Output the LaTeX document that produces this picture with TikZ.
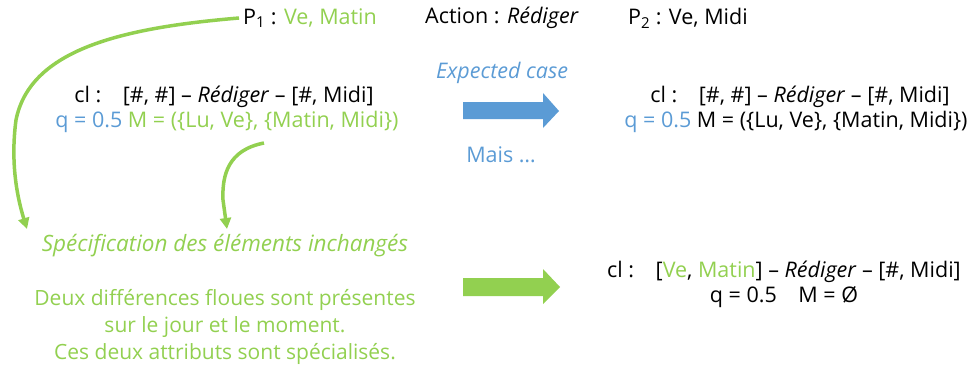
\documentclass[tikz,border=0pt]{standalone}
\usepackage{fontspec}
\setmainfont{Open Sans}
\usetikzlibrary{arrows.meta}
\definecolor{gr}{HTML}{92D050}
\definecolor{bl}{HTML}{5B9BD5}
\begin{document}
\begin{tikzpicture}[x=1pt,y=-1pt,
  txt/.style={inner sep=0pt, font=\fontsize{21.5}{26}\selectfont, align=center},
  curve/.style={draw=gr, line width=3.5pt, -{Triangle[width=11pt,length=11pt]}}]
\useasboundingbox (0,0) rectangle (975,369);
% top row
\node[txt, anchor=west] (p1) at (243,18) {P\textsubscript{1} : \textcolor{gr}{Ve, Matin}};
\node[txt, anchor=west] (act) at (425,18) {Action : \textit{Rédiger}};
\node[txt, anchor=west] (p2) at (628,18) {P\textsubscript{2} : Ve, Midi};
% left cl
\node[txt] (cl1) at (224,97) {cl :\quad[\#, \#] -- \textit{Rédiger} -- [\#, Midi]};
\node[txt] (q1) at (227,122) {\textcolor{bl}{q = 0.5} \textcolor{gr}{M = (\{Lu, Ve\}, \{Matin, Midi\})}};
% expected case
\node[txt, text=bl, font=\fontsize{21.5}{26}\selectfont\itshape] (exp) at (502,73) {Expected case};
\node[txt, text=bl] (mais) at (501,155) {Mais …};
\fill[bl] (463,102) -- (543,102) -- (543,93) -- (559,111) -- (543,128) -- (543,119) -- (463,119) -- cycle;
% right cl
\node[txt] (cl2) at (800,97) {cl :\quad[\#, \#] -- \textit{Rédiger} -- [\#, Midi]};
\node[txt] (q2) at (796,122) {\textcolor{bl}{q = 0.5} M = (\{Lu, Ve\}, \{Matin, Midi\})};
% specification
\node[txt, text=gr, font=\fontsize{22.5}{26}\selectfont\itshape] (spec) at (225,246) {Spécification des éléments inchangés};
\node[txt, text=gr, font=\fontsize{21}{27}\selectfont] (expl) at (225,327) {Deux différences floues sont présentes\\sur le jour et le moment.\\Ces deux attributs sont spécialisés.};
% green arrow
\fill[gr] (463,278) -- (543,278) -- (543,269) -- (560,287) -- (543,304) -- (543,296) -- (463,296) -- cycle;
% right bottom
\node[txt] (cl3) at (784,272) {cl :\quad[\textcolor{gr}{Ve}, \textcolor{gr}{Matin}] -- \textit{Rédiger} -- [\#, Midi]};
\node[txt] (q3) at (784,297) {q = 0.5\quad M = Ø};
% curves
\coordinate (s1) at (239,18);
\coordinate (e1) at (27,229);
\draw[curve] (s1) .. controls (120,28) and (30,50) .. (16,120) .. controls (10,165) and (18,200) .. (e1);
\coordinate (s2) at (264,143);
\coordinate (e2) at (227,229);
\draw[curve] (s2) .. controls (228,150) and (222,175) .. (223,200) -- (e2);
\end{tikzpicture}
\end{document}
